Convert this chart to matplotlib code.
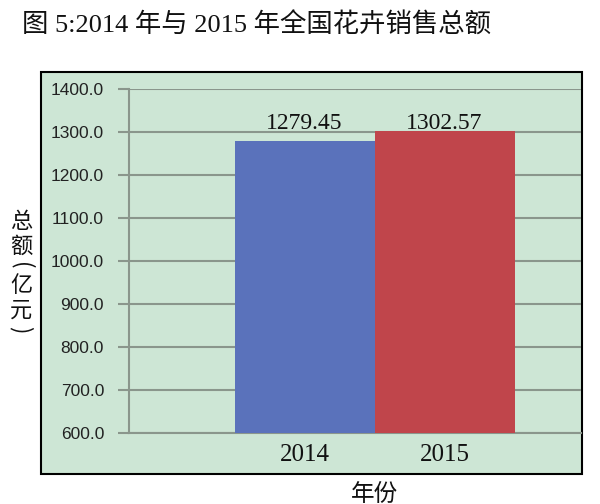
import matplotlib
matplotlib.use('Agg')
import matplotlib.pyplot as plt
from matplotlib.patches import Rectangle

# chart data
years = ['2014', '2015']
totals = [1279.45, 1302.57]
bar_colors = ['#5a72bb', '#c0454b']
y_ticks = [600, 700, 800, 900, 1000, 1100, 1200, 1300, 1400]

W, H = 600, 504
fig = plt.figure(figsize=(W / 100, H / 100), dpi=100)
fig.patch.set_facecolor('white')

# outer chart box (light green with black frame)
box = Rectangle((41 / W, 1 - 474 / H), (582 - 41) / W, (474 - 72) / H,
                transform=fig.transFigure, facecolor='#cde6d5',
                edgecolor='black', linewidth=1.5, zorder=-1)
fig.patches.append(box)

ax = fig.add_axes([129 / W, 1 - 433 / H, (581 - 129) / W, (433 - 89) / H])
ax.set_zorder(2)
ax.set_facecolor('none')

x = list(range(len(years)))
ax.bar(x, totals, width=1.0, color=bar_colors, zorder=3)

ax.set_ylim(600, 1400)
ax.set_xlim(-1.254, 1.975)
ax.set_yticks(y_ticks)
ax.set_yticklabels([f'{v:.1f}' for v in y_ticks],
                   fontfamily='Liberation Sans', fontsize=12.5, color='#222222')
ax.set_xticks(x)
ax.set_xticklabels(years, fontfamily='Liberation Serif', fontsize=18, color='#111111')

ax.yaxis.grid(True, color='#8a968c', linewidth=1.5, zorder=1)
ax.set_axisbelow(True)
ax.tick_params(axis='y', length=8, width=1.5, color='#8a968c', pad=10)
ax.tick_params(axis='x', length=0, pad=8)

for side in ['top', 'right']:
    ax.spines[side].set_visible(False)
for side in ['left', 'bottom']:
    ax.spines[side].set_color('#8a968c')
    ax.spines[side].set_linewidth(1.5)

# value labels, both at the same height above the taller bar
top = max(totals)
for xi, v in zip(x, totals):
    ax.annotate(f'{v:.2f}', (xi, top), xytext=(0, 1.5), textcoords='offset points',
                ha='center', va='baseline', fontfamily='Liberation Serif',
                fontsize=17, color='#111111', zorder=4)

# title
fig.text(22 / W, 1 - 25 / H, '图 5:2014 年与 2015 年全国花卉销售总额',
         ha='left', va='center', fontsize=19,
         family=['Liberation Serif', 'Noto Sans CJK SC'], color='#111111')

# vertical y label: characters stacked upright, brackets turned sideways
cjk = ['Noto Sans CJK SC', 'DejaVu Sans']
ylab_chars = [('总', 222, 0), ('额', 246, 0), ('(', 266, -90),
              ('亿', 286, 0), ('元', 310, 0), (')', 330, -90)]
for ch, py, rot in ylab_chars:
    fig.text(21 / W, 1 - py / H, ch, ha='center', va='center', fontsize=16,
             family=cjk, rotation=rot, color='#111111')

# x label, partly clipped at the bottom edge like the original
fig.text(375 / W, 1 - 494 / H, '年份', ha='center', va='center', fontsize=17,
         family=cjk, color='#111111')

fig.savefig('out.png', dpi=100)
